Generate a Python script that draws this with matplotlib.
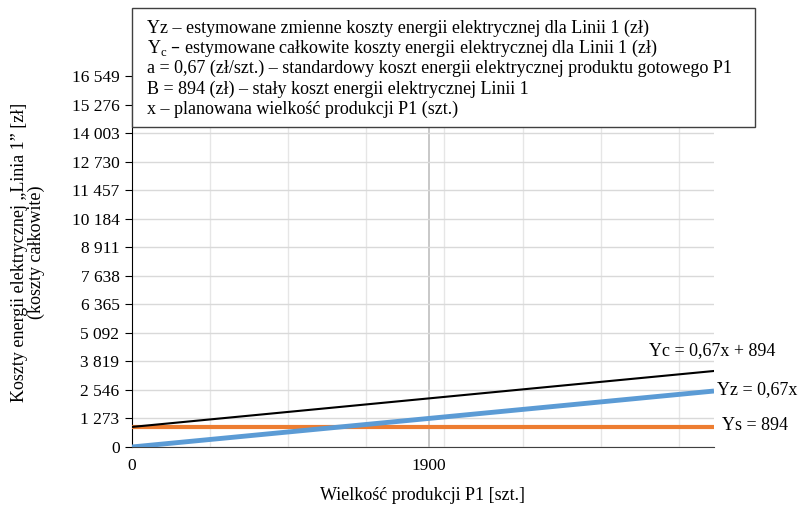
import numpy as np
import matplotlib.pyplot as plt
from matplotlib.ticker import FuncFormatter, FixedLocator

plt.rcParams["font.family"] = ["Liberation Serif", "DejaVu Serif"]

# production volume (szt.) at both ends of the lines
x_vals = [0, 3725]
yc_vals = [894, 3390]   # Yc = 0,67x + 894
yz_vals = [0, 2496]     # Yz = 0,67x
ys_vals = [894, 894]    # Ys = 894

y_ticks = [0, 1273, 2546, 3819, 5092, 6365, 7638, 8911, 10184, 11457,
           12730, 14003, 15276, 16549]
x_major = [0, 1900]
x_minor = [500, 1000, 1500, 2000, 2500, 3000, 3500]

legend_lines = [
    "Yz – estymowane zmienne koszty energii elektrycznej dla Linii 1 (zł)",
    "Y$_{\\mathregular{c}}$ – estymowane całkowite koszty energii elektrycznej dla Linii 1 (zł)",
    "a = 0,67 (zł/szt.) – standardowy koszt energii elektrycznej produktu gotowego P1",
    "B = 894 (zł) – stały koszt energii elektrycznej Linii 1",
    "x – planowana wielkość produkcji P1 (szt.)",
]

fig = plt.figure(figsize=(8, 5.05), dpi=100)
ax = fig.add_axes([0.165, 0.1149, 0.7275, 0.7346])

ax.plot(x_vals, ys_vals, color="#ED7D31", linewidth=3, solid_capstyle="butt", zorder=3)
ax.plot(x_vals, yz_vals, color="#5B9BD5", linewidth=3.5, solid_capstyle="butt", zorder=4)
ax.plot(x_vals, yc_vals, color="black", linewidth=1.5, zorder=5)

ax.set_xlim(x_vals[0], x_vals[-1])
ax.set_ylim(y_ticks[0], y_ticks[-1])

ax.yaxis.set_major_locator(FixedLocator(y_ticks))
ax.yaxis.set_major_formatter(FuncFormatter(lambda v, p: f"{int(round(v)):,}".replace(",", " ")))
ax.xaxis.set_major_locator(FixedLocator(x_major))
ax.xaxis.set_minor_locator(FixedLocator(x_minor))

ax.grid(axis="y", color="#d9d9d9", linewidth=1)
ax.grid(axis="x", which="major", color="#bfbfbf", linewidth=1.2)
ax.grid(axis="x", which="minor", color="#e6e6e6", linewidth=1)

for s in ["top", "right"]:
    ax.spines[s].set_visible(False)
ax.spines["left"].set_color("black")
ax.spines["bottom"].set_color("#404040")
ax.tick_params(axis="y", length=5, labelsize=12.5, pad=4)
ax.tick_params(axis="x", which="both", length=0, labelsize=12.5, pad=8)

ax.set_xlabel("Wielkość produkcji P1 [szt.]", fontsize=13, labelpad=9)
fig.text(28 / 800, 1 - 252 / 505,
         "Koszty energii elektrycznej „Linia 1” [zł]\n(koszty całkowite)",
         fontsize=13, rotation=90, ha="center", va="center", linespacing=1.0)

# line labels
fig.text(649 / 800, 1 - 351 / 505, "Yc = 0,67x + 894", fontsize=13, ha="left", va="center")
fig.text(717 / 800, 1 - 390 / 505, "Yz = 0,67x", fontsize=13, ha="left", va="center")
fig.text(722 / 800, 1 - 426 / 505, "Ys = 894", fontsize=13, ha="left", va="center")

# description box
box = plt.Rectangle((132 / 800, 1 - 127 / 505), 623 / 800, 119 / 505,
                    transform=fig.transFigure, facecolor="white",
                    edgecolor="#404040", linewidth=1, zorder=10)
fig.patches.append(box)
for i, line in enumerate(legend_lines):
    fig.text(147 / 800, 1 - (28 + i * 20.3) / 505, line, fontsize=13,
             ha="left", va="center", zorder=11)

fig.savefig("out.png", dpi=100)
